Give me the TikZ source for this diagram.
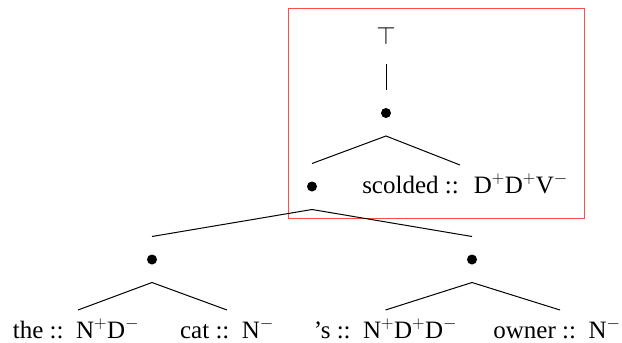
\documentclass[tikz,border=0pt]{standalone}
\usepackage{fontspec}
\setmainfont{Liberation Serif}
\definecolor{boxred}{RGB}{255,77,77}
\newcommand{\lexsep}{\hspace{0.5em}}
\begin{document}
\begin{tikzpicture}[x=1pt,y=-1pt,
  every node/.style={font=\fontsize{25}{29}\selectfont},
  dotnode/.style={circle,fill=black,inner sep=0pt,minimum size=10pt,outer sep=18pt},
  lex/.style={inner sep=0pt,outer sep=11pt,anchor=base,text height=17pt,text depth=4pt},
  branch/.style={line width=1pt}]
\useasboundingbox (0,0) rectangle (622,343);
\draw[boxred,line width=1.5pt] (288.3,8.3) rectangle (584.3,218.3);
\node[inner sep=0pt,outer sep=19pt,font=\fontsize{23}{27}\selectfont] (top) at (386,36) {$\top$};
\node[dotnode] (root) at (386,113) {};
\node[dotnode] (s1) at (312,186.5) {};
\node[lex] (scolded) at (465,193) {scolded ::\hspace{0.6em}D$^{+}$D$^{+}$V$^{-}$};
\node[dotnode] (L) at (152,259.5) {};
\node[dotnode] (R) at (472,259.5) {};
\node[lex] (the) at (76,338) {the ::\lexsep N$^{+}$D$^{-}$};
\node[lex] (cat) at (227,338) {cat ::\lexsep N$^{-}$};
\node[lex] (poss) at (385.5,338) {’s ::\lexsep N$^{+}$D$^{+}$D$^{-}$};
\node[lex] (owner) at (557,338) {owner ::\lexsep N$^{-}$};
\draw[branch] (top.south) -- (root.north);
\draw[branch] ([xshift=-5pt]scolded.north) -- (root.south) -- (s1.north);
\draw[branch] (L.north) -- (s1.south) -- (R.north);
\draw[branch] ([xshift=2pt]the.north) -- (L.south) -- (cat.north);
\draw[branch] (poss.north) -- (R.south) -- ([xshift=3pt]owner.north);
\end{tikzpicture}
\end{document}
